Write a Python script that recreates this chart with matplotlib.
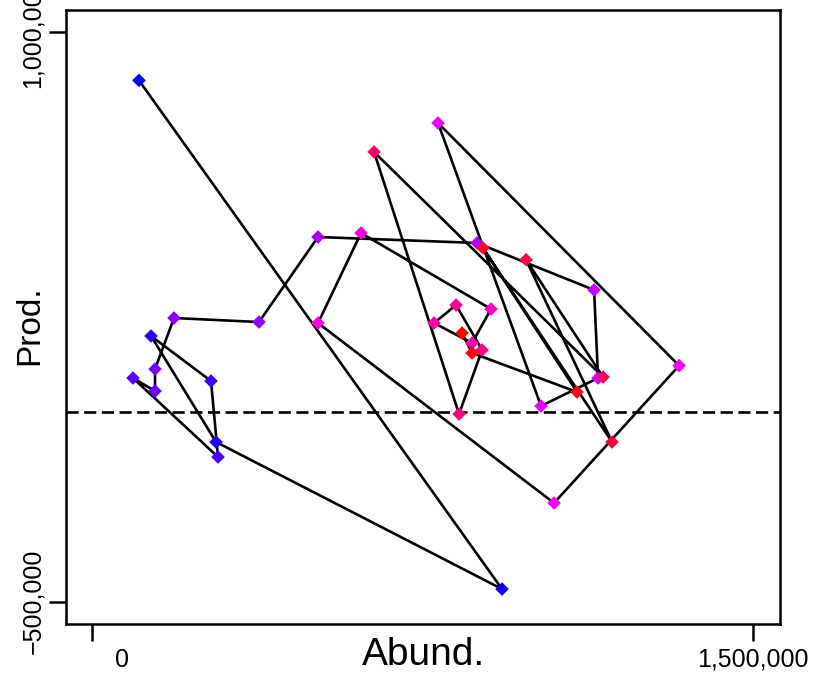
import colorsys
import matplotlib
matplotlib.use("Agg")
import matplotlib.pyplot as plt
from matplotlib.transforms import ScaledTranslation

plt.rcParams['font.family'] = ['Liberation Sans', 'DejaVu Sans']

# trajectory, in time order
abund = [106600, 930300, 281400, 133900, 270000, 285900, 93000, 143000,
         143000, 186100, 378900, 512800, 873600, 1139100, 1148200, 1018800,
         785100, 1332000, 1048300, 512800, 610400, 905400, 862300, 776000,
         826000, 885000, 832800, 639900, 1159500, 984800, 1179900, 887200,
         1100500, 862300, 839600]
prod = [873300, -466600, -79300, 200000, 81400, -118800, 89300, 55100,
        113000, 247400, 236800, 460800, 445000, 321200, 89300, 15500,
        761100, 121900, -240000, 234200, 471300, 271100, 181500, 234200,
        281600, 163100, -5500, 684900, 91900, 400900, -79300, 431800,
        52400, 155200, 207900]
x_ticks = [0, 1500000]
x_tick_labels = ['0', '1,500,000']
y_ticks = [-500000, 1000000]
y_tick_labels = ['\u2212500,000', '1,000,000']

n = len(abund)
# blue -> violet -> magenta -> red along time
colors = [colorsys.hsv_to_rgb((240 + 120 * i / (n - 1)) / 360 % 1.0, 1, 1)
          for i in range(n)]

fig = plt.figure(figsize=(8.19, 6.75), dpi=100)
ax = fig.add_axes([0.0802, 0.0751, 0.8722, 0.9101])

ax.axhline(0, color='black', lw=1.9, dashes=(4.6, 2.1), zorder=1)
ax.plot(abund, prod, color='black', lw=1.9, zorder=2)
ax.scatter(abund, prod, c=colors, marker='D', s=48, linewidths=0, zorder=3)

ax.set_xlim(-59700, 1561000)
ax.set_ylim(-559500, 1058800)

ax.set_xticks(x_ticks)
ax.set_xticklabels(x_tick_labels, fontsize=18)
ax.set_yticks(y_ticks)
ax.set_yticklabels(y_tick_labels, fontsize=18, rotation=90, va='center')
ax.tick_params(axis='both', length=12, width=1.8, color='black', pad=3)
ax.tick_params(axis='x', pad=5)
for sp in ax.spines.values():
    sp.set_linewidth(1.8)

# the "0" label sits to the right of its tick in the original
lab0 = ax.get_xticklabels()[0]
lab0.set_transform(lab0.get_transform()
                   + ScaledTranslation(0.30, 0, fig.dpi_scale_trans))

fig.text(423 / 819, 1 - 655 / 675, 'Abund.', fontsize=28,
         ha='center', va='center')
fig.text(30 / 819, 1 - 325 / 675, 'Prod.', fontsize=24,
         ha='center', va='center', rotation=90)

fig.savefig('out.png', dpi=100)
